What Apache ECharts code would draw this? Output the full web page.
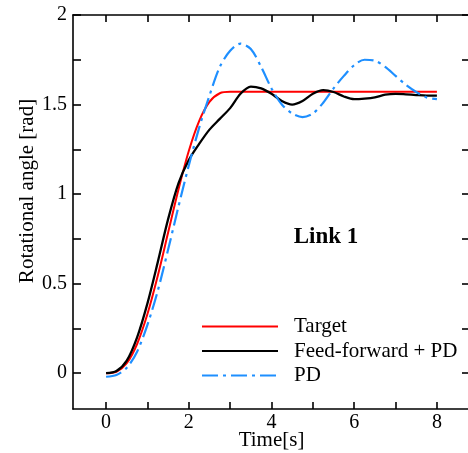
<!DOCTYPE html>
<html>
<head>
<meta charset="utf-8">
<script src="https://cdn.jsdelivr.net/npm/echarts@6/dist/echarts.min.js"></script>
<style>html,body{margin:0;padding:0;background:#fff}#c{width:468px;height:453px}</style>
</head>
<body>
<div id="c"></div>
<script>
// Time samples [s]
var time = [0,0.25,0.5,0.75,1,1.25,1.5,1.75,2,2.25,2.5,2.75,3,3.25,3.5,3.75,4,4.25,4.5,4.75,5,5.25,5.5,5.75,6,6.25,6.5,6.75,7,7.25,7.5,7.75,8];
// Rotational angle [rad]
var target = [0,0.008,0.056,0.163,0.330,0.544,0.785,1.026,1.241,1.408,1.515,1.563,1.571,1.571,1.571,1.571,1.571,1.571,1.571,1.571,1.571,1.571,1.571,1.571,1.571,1.571,1.571,1.571,1.571,1.571,1.571,1.571,1.571];
var ffpd = [0,0.012,0.07,0.20,0.39,0.62,0.86,1.06,1.19,1.28,1.36,1.42,1.48,1.56,1.60,1.59,1.56,1.52,1.50,1.52,1.56,1.58,1.57,1.545,1.53,1.533,1.54,1.555,1.56,1.557,1.553,1.55,1.55];
var pd = [-0.02,-0.01,0.03,0.12,0.27,0.46,0.69,0.93,1.16,1.37,1.55,1.71,1.80,1.84,1.81,1.71,1.59,1.50,1.45,1.43,1.45,1.51,1.59,1.66,1.72,1.75,1.745,1.71,1.66,1.61,1.57,1.54,1.53];
var xLabels = [0,2,4,6,8];
var xTicks = [0,1,2,3,4,5,6,7,8];
var yLabels = [0,0.5,1,1.5,2];
var yTicks = [0,0.25,0.5,0.75,1,1.25,1.5,1.75,2];
var seriesNames = ['Target','Feed-forward + PD','PD'];

function pairs(v){ return time.map(function(t,i){ return [t, v[i]]; }); }
var FONT = 'Liberation Serif';
var chart = echarts.init(document.getElementById('c'));
var axLine = {show:true, onZero:false, lineStyle:{color:'#000', width:1.6}};
var tick = function(vals, len){ return {show:true, inside:true, length:len, customValues:vals, lineStyle:{color:'#000', width:1.6}}; };
chart.setOption({
  animation:false,
  backgroundColor:'#fff',
  grid:{left:73, right:-2, top:15, bottom:44, outerBoundsMode:'none', containLabel:false},
  legend:{
    orient:'vertical', left:201, top:316, padding:0,
    itemWidth:76, itemHeight:14, itemGap:3.5,
    itemStyle:{opacity:0},
    textStyle:{fontFamily:FONT, fontSize:21, color:'#000', padding:[0,0,0,11]},
    data:seriesNames
  },
  graphic:[
    {type:'text', x:27, y:191, rotation:Math.PI/2,
     style:{text:'Rotational angle [rad]', font:'21px "Liberation Serif"', fill:'#000', align:'center', verticalAlign:'middle'}},
    {type:'text', x:326, y:237,
     style:{text:'Link 1', font:'bold 23px "Liberation Serif"', fill:'#000', align:'center', verticalAlign:'middle'}}
  ],
  xAxis:[
    {type:'value', min:-0.8, max:8.8, position:'bottom',
     name:'Time[s]', nameLocation:'middle', nameGap:21, nameMoveOverlap:false,
     nameTextStyle:{fontFamily:FONT, fontSize:21, color:'#000'},
     axisLine:axLine, axisTick:tick(xTicks,7),
     axisLabel:{customValues:xLabels, fontFamily:FONT, fontSize:20, color:'#000', margin:4},
     splitLine:{show:false}},
    {type:'value', min:-0.8, max:8.8, position:'top',
     axisLine:axLine, axisTick:tick(xTicks,7), axisLabel:{show:false}, splitLine:{show:false}}
  ],
  yAxis:[
    {type:'value', min:-0.2, max:2, position:'left',
     axisLine:axLine, axisTick:tick(yTicks,8),
     axisLabel:{customValues:yLabels, fontFamily:FONT, fontSize:20, color:'#000', margin:6},
     splitLine:{show:false}},
    {type:'value', min:-0.2, max:2, position:'right',
     axisLine:axLine, axisTick:tick(yTicks,8), axisLabel:{show:false}, splitLine:{show:false}}
  ],
  series:[
    {name:seriesNames[0], type:'line', data:pairs(target), smooth:0.3, symbol:'none',
     lineStyle:{color:'#ff0000', width:2}, itemStyle:{color:'#ff0000'}},
    {name:seriesNames[1], type:'line', data:pairs(ffpd), smooth:0.3, symbol:'none',
     lineStyle:{color:'#000000', width:2.3}, itemStyle:{color:'#000000'}},
    {name:seriesNames[2], type:'line', data:pairs(pd), smooth:0.3, symbol:'none',
     lineStyle:{color:'#1e8fff', width:2.2, type:[16,5,3,5]}, itemStyle:{color:'#1e8fff'}}
  ]
});
</script>
</body>
</html>
